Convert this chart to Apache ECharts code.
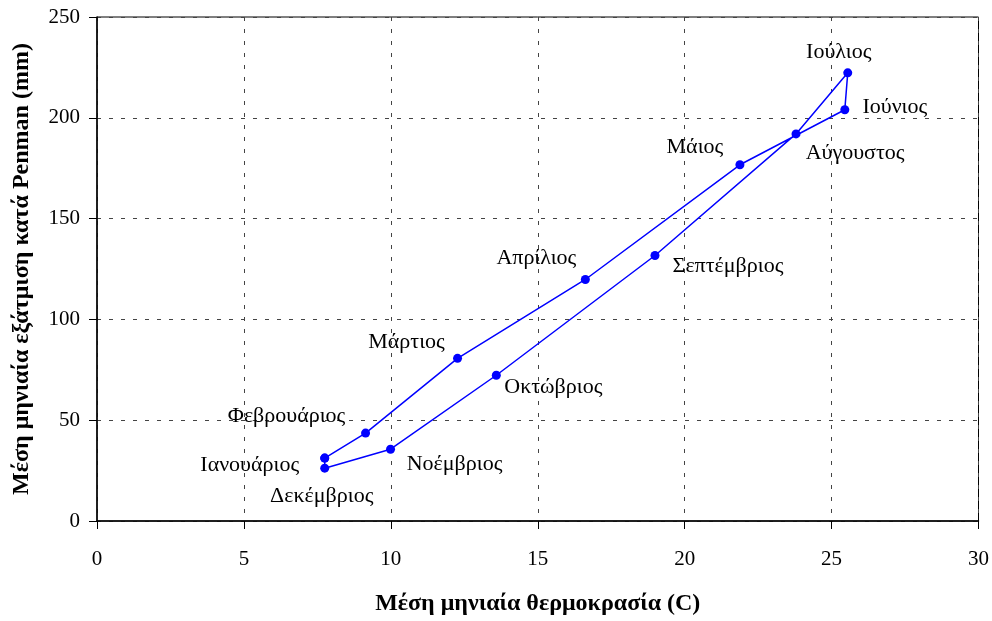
<!DOCTYPE html>
<html>
<head>
<meta charset="utf-8">
<script src="https://cdn.jsdelivr.net/npm/echarts@6/dist/echarts.min.js"></script>
<style>html,body{margin:0;padding:0;background:#fff}#c{width:992px;height:621px}</style>
</head>
<body>
<div id="c"></div>
<script>
const months = ['Ιανουάριος','Φεβρουάριος','Μάρτιος','Απρίλιος','Μάιος','Ιούνιος','Ιούλιος','Αύγουστος','Σεπτέμβριος','Οκτώβριος','Νοέμβριος','Δεκέμβριος'];
const temperature = [7.75, 9.14, 12.27, 16.62, 21.88, 25.45, 25.55, 23.79, 18.99, 13.59, 9.99, 7.75];
const evaporation = [31.2, 43.6, 80.7, 119.8, 176.7, 204.0, 222.3, 192.0, 131.7, 72.3, 35.6, 26.2];
const xTicks = [0, 5, 10, 15, 20, 25, 30];
const yTicks = [0, 50, 100, 150, 200, 250];

// label placement (pixel offsets from each point), style only
const labelOffsets = [[-75,7],[-79,-17],[-51,-16],[-49,-21],[-45,-18],[50,-3],[-9,-21],[59,19],[73,11],[57,12],[64,15],[-3,28]];

const data = months.map((m, i) => ({
  name: m,
  value: [temperature[i], evaporation[i]],
  label: { offset: labelOffsets[i] }
}));
data.push({ name: '', value: [temperature[0], evaporation[0]], label: { show: false } });

const font = 'Liberation Serif';
const chart = echarts.init(document.getElementById('c'), null, { renderer: 'canvas' });
chart.setOption({
  animation: false,
  backgroundColor: '#fff',
  grid: { left: 97, right: 11, top: 17, bottom: 99, show: true, borderColor: '#000', borderWidth: 1 },
  xAxis: {
    type: 'value', min: xTicks[0], max: xTicks[xTicks.length - 1], interval: 5,
    name: 'Μέση μηνιαία θερμοκρασία (C)', nameLocation: 'middle', nameGap: 71,
    nameTextStyle: { fontFamily: font, fontSize: 24, fontWeight: 'bold', color: '#000' },
    axisLine: { lineStyle: { color: '#000', width: 1.5 } },
    axisTick: { show: true, inside: false, length: 8, lineStyle: { color: '#000' } },
    axisLabel: { fontFamily: font, fontSize: 21, color: '#000', margin: 28 },
    splitLine: { show: true, lineStyle: { color: '#444', type: [4, 8], width: 1 } }
  },
  yAxis: {
    type: 'value', min: yTicks[0], max: yTicks[yTicks.length - 1], interval: 50,
    name: 'Μέση μηνιαία εξάτμιση κατά Penman (mm)', nameLocation: 'middle', nameGap: 63,
    nameTextStyle: { fontFamily: font, fontSize: 24, fontWeight: 'bold', color: '#000' },
    axisLine: { show: true, lineStyle: { color: '#000', width: 1.5 } },
    axisTick: { show: true, inside: false, length: 8, lineStyle: { color: '#000' } },
    axisLabel: { fontFamily: font, fontSize: 21, color: '#000', margin: 17 },
    splitLine: { show: true, lineStyle: { color: '#444', type: [4, 8], width: 1 } }
  },
  series: [{
    type: 'line',
    data: data,
    symbol: 'circle',
    symbolSize: 9,
    itemStyle: { color: '#0000FF' },
    lineStyle: { color: '#0000FF', width: 1.5 },
    label: {
      show: true, position: 'inside', formatter: '{b}',
      fontFamily: font, fontSize: 22, color: '#000'
    }
  }]
});
</script>
</body>
</html>
